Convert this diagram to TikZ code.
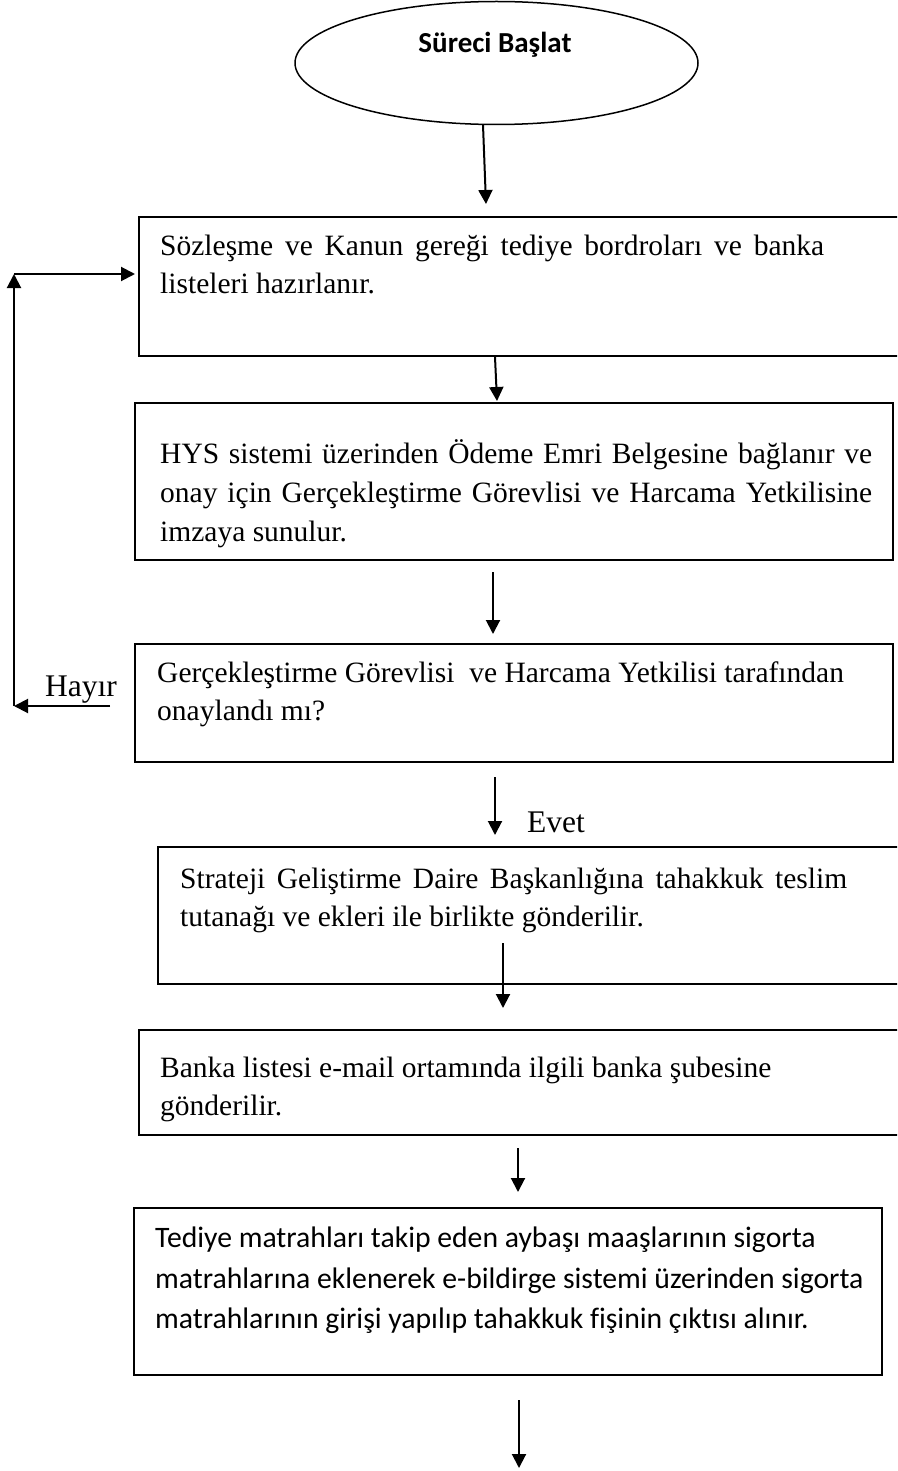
\documentclass[tikz,border=0pt]{standalone}
\usepackage{fontspec}
\setmainfont{Liberation Serif}
\newfontfamily\calfont[Ligatures=NoCommon]{Carlito}
\usetikzlibrary{shapes.geometric,arrows.meta}
\begin{document}
\begin{tikzpicture}[x=1pt,y=-1pt,
  box/.style={draw,line width=1.5pt,rectangle,anchor=north west,inner sep=0pt,outer sep=0pt},
  txt/.style={anchor=base west,inner sep=0pt,font=\fontsize{29.5}{36}\selectfont},
  stxt/.style={anchor=base west,inner sep=0pt,font=\calfont\fontsize{29.7}{36}\selectfont},
  lbl/.style={anchor=base west,inner sep=0pt,font=\fontsize{31.5}{36}\selectfont},
  arr/.style={line width=2pt,-{Triangle[length=14pt,width=14pt]}}]
\clip (0,0) rectangle (897,1471);
\fill[white] (0,0) rectangle (897,1471);

% start ellipse
\node[ellipse,draw,line width=1.5pt,minimum width=403pt,minimum height=123pt,inner sep=0pt] (start) at (496.5,63) {};
\node[anchor=base,inner sep=0pt,font=\calfont\bfseries\fontsize{29}{34}\selectfont] (starttxt) at (495,53) {Süreci Başlat};

% boxes
\node[box,minimum width=771pt,minimum height=139pt] (b1) at (139,217) {};
\node[box,minimum width=758pt,minimum height=157pt] (b2) at (135,403) {};
\node[box,minimum width=758pt,minimum height=118pt] (b3) at (135,644) {};
\node[box,minimum width=752pt,minimum height=137pt] (b4) at (158,847) {};
\node[box,minimum width=771pt,minimum height=105pt] (b5) at (139,1030) {};
\node[box,line width=2pt,minimum width=748pt,minimum height=167pt] (b6) at (134,1208) {};

% texts
\node[txt] (t1a) at (160,255) {\makebox[664pt][s]{Sözleşme ve Kanun gereği tediye bordroları ve banka}};
\node[txt] (t1b) at (160,293) {listeleri hazırlanır.};

\node[txt] (t2a) at (160,463) {\makebox[712pt][s]{HYS sistemi üzerinden Ödeme Emri Belgesine bağlanır ve}};
\node[txt] (t2b) at (160,502) {\makebox[712pt][s]{onay için Gerçekleştirme Görevlisi ve Harcama Yetkilisine}};
\node[txt] (t2c) at (160,541) {imzaya sunulur.};

\node[txt] (t3a) at (157,682) {Gerçekleştirme Görevlisi\ \ ve Harcama Yetkilisi tarafından};
\node[txt] (t3b) at (157,720) {onaylandı mı?};

\node[txt] (t4a) at (180,888) {\makebox[667pt][s]{Strateji Geliştirme Daire Başkanlığına tahakkuk teslim}};
\node[txt] (t4b) at (180,926) {tutanağı ve ekleri ile birlikte gönderilir.};

\node[txt] (t5a) at (160,1077) {Banka listesi e-mail ortamında ilgili banka şubesine};
\node[txt] (t5b) at (160,1115) {gönderilir.};

\node[stxt] (t6a) at (155,1247) {Tediye matrahları takip eden aybaşı maaşlarının sigorta};
\node[stxt] (t6b) at (155,1288) {matrahlarına eklenerek e-bildirge sistemi üzerinden sigorta};
\node[stxt] (t6c) at (155,1328) {matrahlarının girişi yapılıp tahakkuk fişinin çıktısı alınır.};

% labels
\node[lbl] (hayir) at (45,696) {Hayır};
\node[lbl] (evet) at (527,832) {Evet};

% connector coordinates
\coordinate (a1s) at (483,125);  \coordinate (a1e) at (486,204);
\coordinate (a2s) at (495,357);  \coordinate (a2e) at (497,401);
\coordinate (a3s) at (493,572);  \coordinate (a3e) at (493,634);
\coordinate (a4s) at (495,777);  \coordinate (a4e) at (495,835);
\coordinate (a5s) at (503,943);  \coordinate (a5e) at (503,1008);
\coordinate (a6s) at (518,1148); \coordinate (a6e) at (518,1192);
\coordinate (a7s) at (519,1400); \coordinate (a7e) at (519,1468);
\coordinate (h1) at (110,706);
\coordinate (h2) at (14,706);
\coordinate (h3) at (14,274);
\coordinate (h4) at (135,274);

\draw[arr] (a1s) -- (a1e);
\draw[arr] (a2s) -- (a2e);
\draw[arr] (a3s) -- (a3e);
\draw[arr] (a4s) -- (a4e);
\draw[arr] (a5s) -- (a5e);
\draw[arr] (a6s) -- (a6e);
\draw[arr] (a7s) -- (a7e);
\draw[arr] (h1) -- (h2);
\draw[arr] (h2) -- (h3);
\draw[arr] (h3) -- (h4);
\end{tikzpicture}
\end{document}
